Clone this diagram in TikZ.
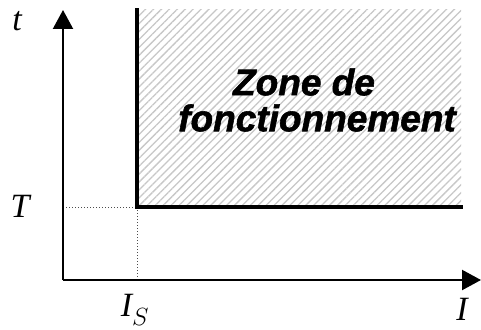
\documentclass[tikz,border=0pt]{standalone}
\usepackage{fontspec}
\setmainfont{Liberation Serif}
\newfontfamily\zonefont{Liberation Sans}[BoldItalicFeatures={FakeBold=1.5}]
\usetikzlibrary{arrows.meta,patterns.meta}
\tikzset{
  axis/.style={line width=2.2pt,-{Triangle[width=20pt,length=19pt]}},
  bound/.style={line width=4pt},
  guide/.style={line width=1pt,dotted,black!70},
  lbl/.style={font=\fontsize{34}{34}\selectfont\itshape,inner sep=0pt},
  zone/.style={font=\fontsize{37}{37}\selectfont\zonefont\bfseries\itshape,inner sep=0pt}
}
\begin{document}
\begin{tikzpicture}[x=1pt,y=-1pt]
\useasboundingbox (0,0) rectangle (481,329);
\fill[pattern={Lines[angle=45,distance=5.6pt,line width=1.3pt]},pattern color=black!22] (137,10) rectangle (461,207);
\coordinate (O) at (63,280);
\coordinate (ytop) at (63,10);
\coordinate (xend) at (481,280);
\coordinate (C) at (137,207);
\coordinate (Ctop) at (137,10);
\coordinate (Cright) at (461,207);
\coordinate (Ty) at (63,207);
\coordinate (Isx) at (137,280);
\draw[guide] (Ty) -- (C);
\draw[guide] (C) -- (Isx);
\draw[axis] (O) -- (ytop);
\draw[axis] (O) -- (xend);
\draw[bound,line cap=rect] (Ctop) -- (C) -- (Cright);
\node[lbl] (t) at (17,21) {t};
\node[lbl] (T) at (20,206) {T};
\node[lbl] (Is) at (135,310) {I$_S$};
\node[lbl] (I) at (462,309) {I};
\node[zone] (z1) at (304,82) {Zone de};
\node[zone] (z2) at (317,118) {fonctionnement};
\end{tikzpicture}
\end{document}
